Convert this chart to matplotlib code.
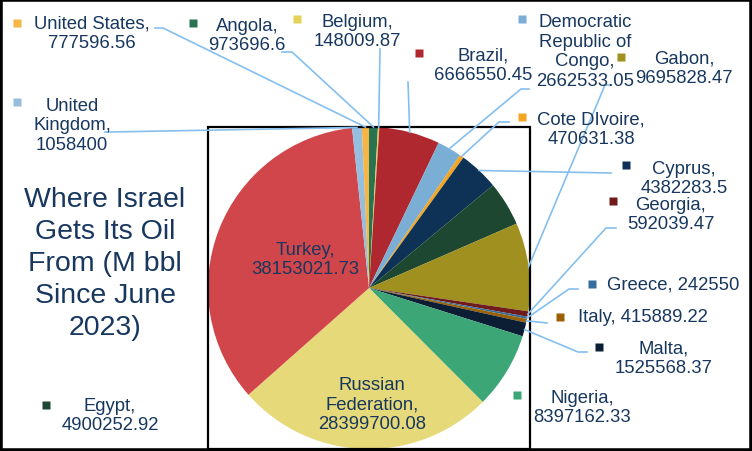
import matplotlib.pyplot as plt
import numpy as np
from matplotlib.patches import Rectangle

countries = ["Angola", "Belgium", "Brazil", "Democratic Republic of Congo", "Cote DIvoire",
             "Cyprus", "Egypt", "Gabon", "Georgia", "Greece", "Italy", "Malta", "Nigeria",
             "Russian Federation", "Turkey", "United Kingdom", "United States"]
values = [973696.6, 148009.87, 6666550.45, 2662533.05, 470631.38,
          4382283.5, 4900252.92, 9695828.47, 592039.47, 242550, 415889.22, 1525568.37, 8397162.33,
          28399700.08, 38153021.73, 1058400, 777596.56]
labels = ["Angola,\n973696.6", "Belgium,\n148009.87", "Brazil,\n6666550.45",
          "Democratic\nRepublic of\nCongo,\n2662533.05", "Cote DIvoire,\n470631.38",
          "Cyprus,\n4382283.5", "Egypt,\n4900252.92", "Gabon,\n9695828.47", "Georgia,\n592039.47",
          "Greece, 242550", "Italy, 415889.22", "Malta,\n1525568.37", "Nigeria,\n8397162.33",
          "Russian\nFederation,\n28399700.08", "Turkey,\n38153021.73", "United\nKingdom,\n1058400",
          "United States,\n777596.56"]
colors = ["#2A7350", "#E3D256", "#B0282F", "#7AAED5", "#F4A521",
          "#0E3255", "#1D4731", "#A0901F", "#6F1A1B", "#356E9C", "#9A6104", "#0B1E33", "#3DA676",
          "#E6D979", "#D1464B", "#95BEDF", "#F6B545"]
title = "Where Israel\nGets Its Oil\nFrom (M bbl\nSince June\n2023)"

TEXT = "#17375E"
LEADER = "#85BFEF"

# label placement in pixel coords: (key x, key y, text cx, text cy); None key = inside label
label_pos = {
    "Angola": ((193, 24), (247, 36)),
    "Belgium": ((297, 20), (357, 32)),
    "Brazil": ((419, 54), (483, 66)),
    "Democratic Republic of Congo": ((522, 20), (585, 52)),
    "Cote DIvoire": ((522, 118), (591, 130)),
    "Cyprus": ((626, 166), (684, 179)),
    "Egypt": ((46, 406), (110, 416)),
    "Gabon": ((621, 58), (684, 69)),
    "Georgia": ((613, 202), (671, 215)),
    "Greece": ((592, 285), (673, 285)),
    "Italy": ((560, 318), (643, 318)),
    "Malta": ((599, 348), (664, 359)),
    "Nigeria": ((517, 396), (582, 408)),
    "Russian Federation": (None, (372, 405)),
    "Turkey": (None, (305, 260)),
    "United Kingdom": ((17, 103), (72, 126)),
    "United States": ((17, 24), (92, 34)),
}
# leader lines: points near the label, last point goes to the wedge edge
leaders = {
    "United States": [(155, 29), (163, 29)],
    "Angola": [(282, 53), (292, 53)],
    "United Kingdom": [(105, 133), (110, 133)],
    "Belgium": [(380, 50)],
    "Brazil": [(408, 83)],
    "Democratic Republic of Congo": [(529, 90), (521, 90)],
    "Cote DIvoire": [(509, 123), (499, 123)],
    "Cyprus": [(611, 174)],
    "Gabon": [(611, 86), (605, 86)],
    "Georgia": [(616, 229), (606, 229)],
    "Greece": [(578, 290), (569, 290)],
    "Italy": [(547, 324)],
    "Malta": [(587, 353), (578, 353)],
}

fig = plt.figure(figsize=(7.52, 4.52), dpi=100)
ax = fig.add_axes([0, 0, 1, 1])

cx, cy, r = 369, 289, 161
wedges, _ = ax.pie(values, colors=colors, startangle=-90, counterclock=True,
                   center=(cx, cy), radius=r, wedgeprops=dict(linewidth=0), frame=True)
ax.set_xlim(0, 752)
ax.set_ylim(452, 0)
ax.axis("off")

ax.add_patch(Rectangle((208, 128), 322, 322, fill=False, edgecolor="black", lw=1.6, zorder=3))

for i, name in enumerate(countries):
    key, (tx, ty) = label_pos[name]
    ax.text(tx, ty, labels[i], ha="center", va="center", multialignment="center",
            fontsize=13.3, color=TEXT, family="Liberation Sans", linespacing=1.22, zorder=5)
    if key is not None:
        ax.plot(key[0], key[1], marker="s", ms=6, color=colors[i], mec="none", zorder=5)
    if name in leaders:
        w = wedges[i]
        mid = np.deg2rad((w.theta1 + w.theta2) / 2)
        end = (cx + r * np.cos(mid), cy + r * np.sin(mid))
        pts = leaders[name] + [end]
        xs, ys = zip(*pts)
        ax.plot(xs, ys, color=LEADER, lw=1.2, zorder=4)

ax.text(105, 264, title, ha="center", va="center", multialignment="center",
        fontsize=20.5, color=TEXT, family="Liberation Sans", linespacing=1.3)

fig.add_artist(Rectangle((0, 0), 1, 1, transform=fig.transFigure, fill=False,
                         edgecolor="black", lw=4))
fig.savefig("out.png", dpi=100)
